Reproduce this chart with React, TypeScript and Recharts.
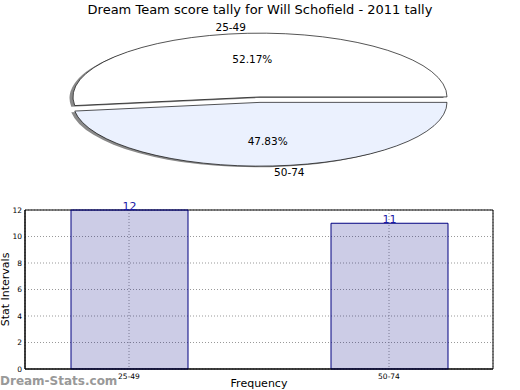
import { Bar, BarChart, CartesianGrid, Cell, LabelList, Pie, PieChart, ReferenceArea, XAxis, YAxis } from "recharts"

const categories = ["25-49", "50-74"]
const counts = [12, 11]
const yTicks = [0, 2, 4, 6, 8, 10, 12]
const xTicks = [0, 1]
const pieFills = ["#ffffff", "#ebf1fe"]

const FONT = "'DejaVu Sans', sans-serif"
const K = 0.341 // vertical squash of the pie
const PIE_R = 187
const PIE_CY = 257
const EXPLODE = 8
const SHADOW = 3.5

const pieData = categories.map((name, i) => ({ name, value: counts[i] }))
const barData = categories.map((label, i) => ({ x: i, label, value: counts[i] }))

const RAD = Math.PI / 180

const makePieLabel = (visible: number) => (p: any) => {
    if (p.index !== visible) return null
    const cos = Math.cos(-p.midAngle * RAD)
    const sin = Math.sin(-p.midAngle * RAD)
    const r = p.outerRadius
    const ix = p.cx + 0.6 * r * cos
    const iy = p.cy + 0.6 * r * sin
    const ox = p.cx + 1.1 * r * cos
    const oy = p.cy + 1.1 * r * sin
    const style = { fontFamily: FONT, fontSize: 10.5, fill: "#000" }
    return (
        <g>
            <text transform={`translate(${ix},${iy}) scale(1,${1 / K})`} textAnchor="middle" dominantBaseline="central" style={style}>
                {(p.percent * 100).toFixed(2)}%
            </text>
            <text transform={`translate(${ox},${oy}) scale(1,${1 / K})`} textAnchor={cos > 0 ? "start" : "end"} dominantBaseline="central" style={style}>
                {categories[p.index]}
            </text>
        </g>
    )
}

const YLabel = (props: any) => {
    const vb = props.viewBox
    const x = 5
    const y = vb.y + vb.height / 2
    return (
        <text x={x} y={y} transform={`rotate(-90 ${x} ${y})`} textAnchor="middle" dominantBaseline="central" style={{ fontFamily: FONT, fontSize: 11, fill: "#000" }}>
            Stat Intervals
        </text>
    )
}

const XLabel = (props: any) => {
    const vb = props.viewBox
    return (
        <text x={vb.x + vb.width / 2} y={vb.y + 18} textAnchor="middle" style={{ fontFamily: FONT, fontSize: 11, fill: "#000" }}>
            Frequency
        </text>
    )
}

function slicePie(idx: number, dy: number, shadow: boolean) {
    return (
        <Pie
            key={`${shadow ? "s" : "p"}${idx}`}
            data={pieData}
            dataKey="value"
            nameKey="name"
            cx={260 - (shadow ? SHADOW : 0)}
            cy={PIE_CY + dy + (shadow ? SHADOW : 0)}
            outerRadius={PIE_R}
            startAngle={0}
            endAngle={360}
            labelLine={false}
            label={shadow ? false : makePieLabel(idx)}
            isAnimationActive={false}
        >
            {pieData.map((_, i) => (
                <Cell
                    key={i}
                    fill={i === idx ? (shadow ? "#8a8a8a" : pieFills[i]) : "none"}
                    stroke={i === idx && !shadow ? "#000" : "none"}
                    strokeWidth={1}
                    vectorEffect="non-scaling-stroke"
                />
            ))}
        </Pie>
    )
}

export default function App() {
    return (
        <div style={{ position: "absolute", left: 0, top: 0, width: 520, height: 390, overflow: "hidden", background: "#fff", fontFamily: FONT }}>
            <div style={{ position: "absolute", top: 2, left: 0, width: 520, textAlign: "center", fontSize: 13, lineHeight: "16px", color: "#000" }}>
                Dream Team score tally for Will Schofield - 2011 tally
            </div>
            <div style={{ position: "absolute", top: 11.6, left: 0, width: 520, height: 514, transform: `scaleY(${K})`, transformOrigin: "0 0" }}>
                <PieChart width={520} height={514} margin={{ top: 0, right: 0, bottom: 0, left: 0 }}>
                    {slicePie(0, -EXPLODE, true)}
                    {slicePie(1, EXPLODE, true)}
                    {slicePie(0, -EXPLODE, false)}
                    {slicePie(1, EXPLODE, false)}
                </PieChart>
            </div>
            <div style={{ position: "absolute", top: 190, left: 0, width: 520, height: 210 }}>
                <BarChart width={520} height={210} data={barData} margin={{ top: 20, right: 27, bottom: 0, left: 0 }}>
                    <CartesianGrid stroke="#999" strokeDasharray="1 2" />
                    <XAxis
                        dataKey="x"
                        type="number"
                        domain={[-0.4, 1.4]}
                        ticks={xTicks}
                        interval={0}
                        allowDataOverflow
                        tickFormatter={(v: number) => categories[v]}
                        height={31}
                        axisLine={{ stroke: "#000" }}
                        tickLine={false}
                        tickSize={4}
                        tickMargin={1}
                        tick={{ fontSize: 7.5, fill: "#000", fontFamily: FONT }}
                        label={<XLabel />}
                    />
                    <YAxis
                        type="number"
                        domain={[0, 12]}
                        ticks={yTicks}
                        interval={0}
                        width={25}
                        axisLine={{ stroke: "#000" }}
                        tickLine={false}
                        tickSize={2}
                        tickMargin={1}
                        tick={{ fontSize: 7.5, fill: "#000", fontFamily: FONT }}
                        label={<YLabel />}
                    />
                    <ReferenceArea x1={-0.4} x2={1.4} y1={0} y2={12} fill="none" stroke="#000" strokeWidth={1} />
                    <Bar dataKey="value" barSize={117} fill="#000080" fillOpacity={0.2} stroke="#000080" strokeWidth={1} isAnimationActive={false}>
                        <LabelList dataKey="value" position="top" offset={0} fill="#1a1aa6" fontSize={11} fontFamily={FONT} />
                    </Bar>
                </BarChart>
            </div>
            <div style={{ position: "absolute", left: 0, top: 373, fontSize: 12, lineHeight: "16px", color: "#999", fontWeight: "bold" }}>
                Dream-Stats.com
            </div>
        </div>
    )
}
